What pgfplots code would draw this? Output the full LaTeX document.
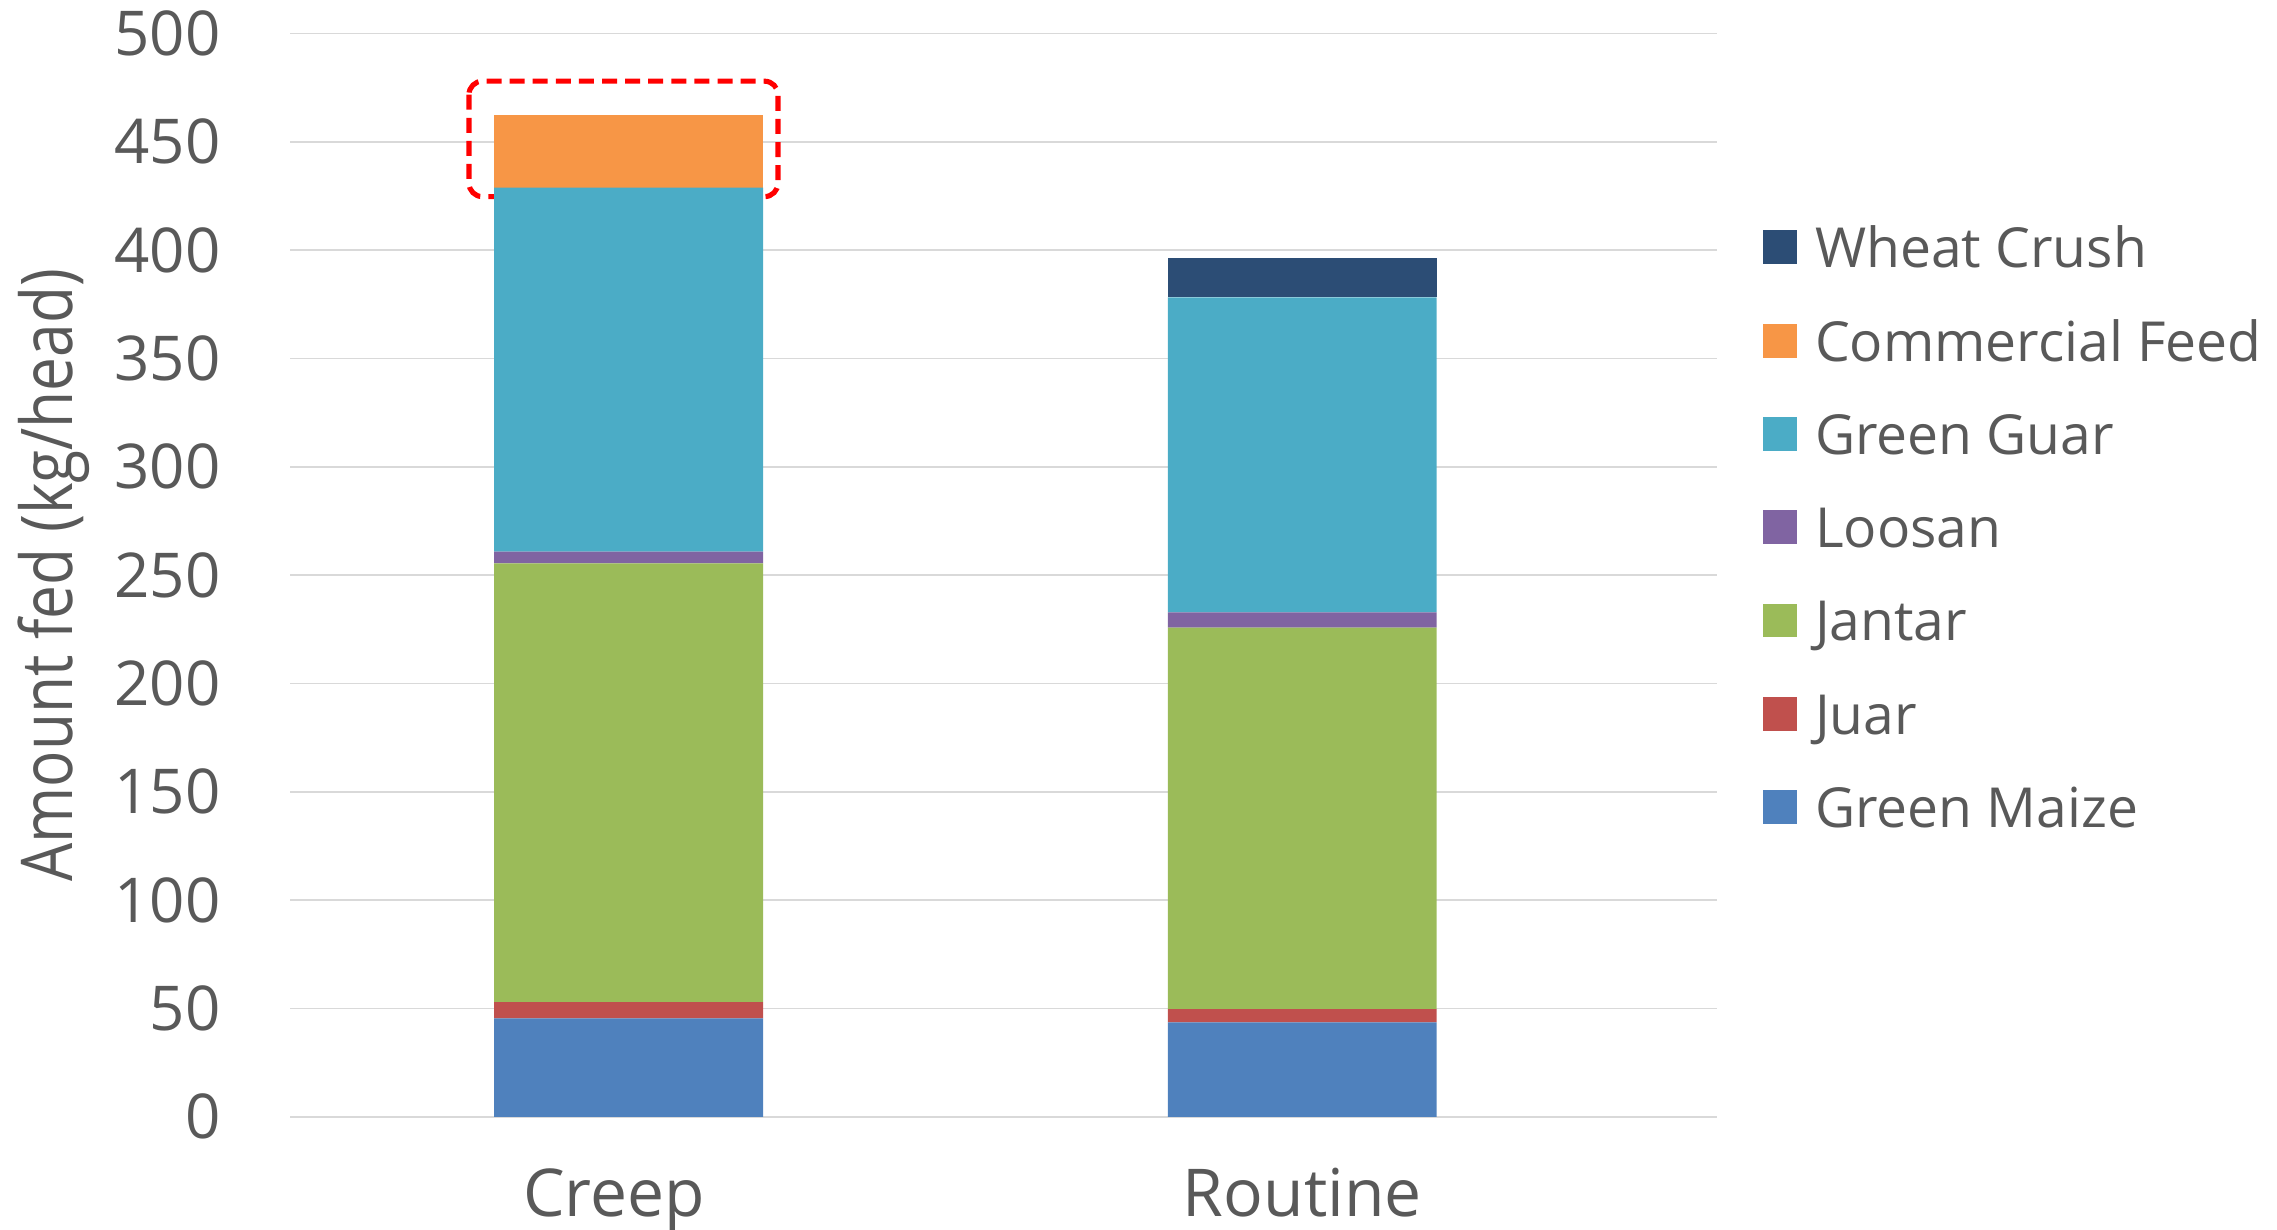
\documentclass[border=0pt]{standalone}
\usepackage{fontspec}
\setmainfont{Open Sans}
\usepackage{graphicx}
\usepackage{pgfplots}
\pgfplotsset{compat=1.18}
\usepackage{pgfplotstable}

\definecolor{maize}{HTML}{4F81BD}
\definecolor{juar}{HTML}{C0504D}
\definecolor{jantar}{HTML}{9BBB59}
\definecolor{loosan}{HTML}{8064A2}
\definecolor{guar}{HTML}{4BACC6}
\definecolor{feed}{HTML}{F79646}
\definecolor{wheat}{HTML}{2C4D75}
\definecolor{labelgray}{HTML}{595959}
\definecolor{gridgray}{HTML}{D9D9D9}

% amount fed, kg/head; x: 0 = Creep, 1 = Routine
\pgfplotstableread{
x gm juar jantar loosan guar feed wheat
0 45.4 7.5 202.5 5.5 168.0 33.4 0
1 43.6 6.1 176.1 7.0 145.4 0 18.4
}\feedtable

\begin{document}
\begin{tikzpicture}
\begin{axis}[
    name=ax,
    scale only axis,
    width=475.7pt, height=361.1pt,
    ybar stacked,
    bar width=89.6pt,
    enlargelimits=false,
    xmin=-0.5025, xmax=1.616,
    ymin=0, ymax=500,
    ytick={0,50,...,500},
    xtick=data,
    xticklabels={\makebox[0pt]{Creep\hspace{9.6pt}},Routine},
    axis line style={draw=none},
    major tick length=0pt,
    ymajorgrids,
    grid style={color=gridgray, line width=0.6pt},
    tick label style={text=labelgray},
    /pgf/number format/assume math mode=true,
    yticklabel style={font=\fontsize{20.6}{20.6}\selectfont, anchor=east, inner sep=0pt, xshift=-23pt},
    xticklabel style={font=\fontsize{22}{22}\selectfont, anchor=north, inner sep=0pt, yshift=-17pt},
    ylabel={\scalebox{0.845}[1]{Amount fed (kg/head)}},
    ylabel style={at={(axis description cs:-0.1654,0.5)}, anchor=center,
        font=\fontsize{23.8}{24}\selectfont, text=labelgray},
    reverse legend,
    legend cell align=left,
    legend image code/.code={\fill[#1] (0pt,-5.15pt) rectangle (11.3pt,6.15pt);},
    legend style={draw=none, fill=none, at={(1.0322,0.8187)}, anchor=north west,
        inner sep=0pt, outer sep=0pt, text=labelgray,
        font=\fontsize{18.4}{18.4}\selectfont, row sep=18.5pt,
        nodes={inner sep=0pt, text height=12.6pt, text depth=0pt},
        /tikz/every odd column/.append style={column sep=6pt}},
]
\addplot[fill=maize, draw=none] table[x=x, y=gm] {\feedtable};
\addlegendentry{Green Maize}
\addplot[fill=juar, draw=none] table[x=x, y=juar] {\feedtable};
\addlegendentry{Juar}
\addplot[fill=jantar, draw=none] table[x=x, y=jantar] {\feedtable};
\addlegendentry{Jantar}
\addplot[fill=loosan, draw=none] table[x=x, y=loosan] {\feedtable};
\addlegendentry{Loosan}
\addplot[fill=guar, draw=none] table[x=x, y=guar] {\feedtable};
\addlegendentry{Green Guar}
\addplot[fill=feed, draw=none] table[x=x, y=feed] {\feedtable};
\addlegendentry{Commercial Feed}
\addplot[fill=wheat, draw=none] table[x=x, y=wheat] {\feedtable};
\addlegendentry{Wheat Crush}

% highlight box round the commercial feed block
\draw[red, line width=1.7pt, dash pattern=on 5pt off 2.7pt, rounded corners=4.5pt]
    (axis cs:-0.237,478) rectangle (axis cs:0.2218,424.7);
\end{axis}
\pgfresetboundingbox
\path (ax.south west) ++(-96.7pt,-37.4pt) rectangle ++(759pt,409.67pt);
\end{tikzpicture}
\end{document}
